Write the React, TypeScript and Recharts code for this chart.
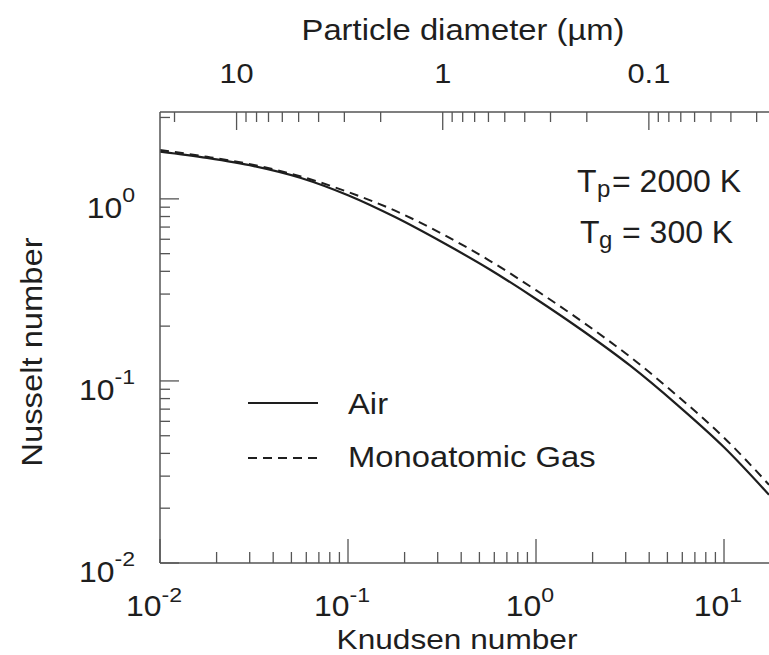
import React from "react";
import { LineChart, Line, XAxis, YAxis, Legend } from "recharts";

// Knudsen number (x) and Nusselt number (y)
const knudsen = [0.01, 0.0178, 0.0316, 0.0562, 0.1, 0.178, 0.316, 0.562, 1, 1.78, 3.16, 5.62, 10, 17.35];
const airNu = [1.82, 1.679, 1.514, 1.303, 1.047, 0.794, 0.579, 0.412, 0.282, 0.188, 0.1216, 0.0741, 0.0432, 0.0237];
const monoNu = [1.854, 1.702, 1.535, 1.327, 1.091, 0.861, 0.643, 0.46, 0.315, 0.21, 0.1358, 0.0832, 0.0488, 0.0269];

const knDomain = [0.01, 17.35];
const nuDomain = [0.01, 3];

const knMajor = [0.01, 0.1, 1, 10];
const knMinor = [0.02, 0.03, 0.04, 0.05, 0.06, 0.07, 0.08, 0.09, 0.2, 0.3, 0.4, 0.5, 0.6, 0.7, 0.8, 0.9, 2, 3, 4, 5, 6, 7, 8, 9];
const nuMajor = [0.01, 0.1, 1];
const nuMinor = [0.02, 0.03, 0.04, 0.05, 0.06, 0.07, 0.08, 0.09, 0.2, 0.3, 0.4, 0.5, 0.6, 0.7, 0.8, 0.9, 2.8];

// top axis: particle diameter in µm
const diamMajor = [10, 1, 0.1];
const diamLabels = ["10", "1", "0.1"];
const diamMinor = [20, 9, 8, 7, 6, 5, 4, 3, 2, 0.9, 0.8, 0.7, 0.6, 0.5, 0.4, 0.3, 0.2, 0.09, 0.08, 0.07, 0.06, 0.05, 0.04, 0.03];
const KN_AT_1UM = 0.319;
const D_EXP = 1.0965;
const diamToKn = (d: number) => KN_AT_1UM * Math.pow(d, -D_EXP);

const airData = knudsen.map((x, i) => ({ x, y: airNu[i] }));
const monoData = knudsen.map((x, i) => ({ x, y: monoNu[i] }));
const topMajorKn = diamMajor.map(diamToKn);
const topTicks = [...topMajorKn, ...diamMinor.map(diamToKn)];

const AXIS = "#555";
const INK = "#1e1e1e";
const FONT = '"Liberation Sans", Arial, Helvetica, sans-serif';

function Stretch({ x, y, anchor = "start", size, sx = 1.13, rotate = 0, children }: any) {
  return (
    <g transform={`translate(${x} ${y}) rotate(${rotate}) scale(${sx} 1)`}>
      <text x={0} y={0} textAnchor={anchor} fontSize={size} fontFamily={FONT} fill={INK}>
        {children}
      </text>
    </g>
  );
}

const near = (a: number, b: number) => Math.abs(Math.log10(a) - Math.log10(b)) < 1e-6;

function BottomTick({ x, y, payload }: any) {
  const v = payload.value;
  const major = knMajor.some((m) => near(m, v));
  return (
    <g>
      <line x1={x} x2={x} y1={y} y2={y - (major ? 24 : 11)} stroke={AXIS} strokeWidth={1.3} />
      {major && (
        <Stretch x={x - 6} y={y + 53} anchor="middle" size={29} sx={1.1}>
          10<tspan dy={-14} fontSize={21}>{Math.round(Math.log10(v))}</tspan>
        </Stretch>
      )}
    </g>
  );
}

function LeftTick({ x, y, payload }: any) {
  const v = payload.value;
  const major = nuMajor.some((m) => near(m, v));
  return (
    <g>
      <line x1={x} x2={x + (major ? 19 : 10)} y1={y} y2={y} stroke={AXIS} strokeWidth={1.3} />
      {major && (
        <Stretch x={x - 25} y={y + 19} anchor="end" size={29} sx={1.1}>
          10<tspan dy={-16} fontSize={21}>{Math.round(Math.log10(v))}</tspan>
        </Stretch>
      )}
    </g>
  );
}

function TopTick({ x, y, payload }: any) {
  const v = payload.value;
  const idx = topMajorKn.findIndex((m) => near(m, v));
  const major = idx >= 0;
  return (
    <g>
      <line x1={x} x2={x} y1={y} y2={y + (major ? 18 : 10)} stroke={AXIS} strokeWidth={1.3} />
      {major && (
        <Stretch x={x} y={y - 29} anchor="middle" size={28} sx={1.1}>
          {diamLabels[idx]}
        </Stretch>
      )}
    </g>
  );
}

function LegendBox() {
  return (
    <svg width={440} height={95}>
      <line x1={8} x2={78} y1={18} y2={18} stroke={INK} strokeWidth={2} />
      <Stretch x={108} y={29} size={29}>Air</Stretch>
      <line x1={8} x2={81} y1={73} y2={73} stroke={INK} strokeWidth={2} strokeDasharray="9 6" />
      <Stretch x={108} y={82} size={29}>Monoatomic Gas</Stretch>
    </svg>
  );
}

export default function App() {
  return (
    <div style={{ position: "absolute", left: 0, top: 0, width: 769, height: 655, background: "#fff" }}>
      <LineChart width={769} height={655} margin={{ top: 82, right: 0, bottom: 32, left: 100 }}>
        <XAxis
          dataKey="x"
          type="number"
          scale="log"
          domain={knDomain}
          allowDataOverflow
          ticks={[...knMajor, ...knMinor]}
          interval={0}
          height={60}
          tickSize={0}
          tickMargin={0}
          tickLine={false}
          axisLine={{ stroke: AXIS, strokeWidth: 1.5 }}
          tick={(p: any) => <BottomTick {...p} />}
        />
        <XAxis
          xAxisId="top"
          orientation="top"
          dataKey="x"
          type="number"
          scale="log"
          domain={knDomain}
          allowDataOverflow
          ticks={topTicks}
          interval={0}
          height={30}
          tickSize={0}
          tickMargin={0}
          tickLine={false}
          axisLine={{ stroke: AXIS, strokeWidth: 1.5 }}
          tick={(p: any) => <TopTick {...p} />}
        />
        <YAxis
          type="number"
          scale="log"
          domain={nuDomain}
          allowDataOverflow
          ticks={[...nuMajor, ...nuMinor]}
          interval={0}
          width={60}
          tickSize={0}
          tickMargin={0}
          tickLine={false}
          axisLine={{ stroke: AXIS, strokeWidth: 1.5 }}
          tick={(p: any) => <LeftTick {...p} />}
        />
        <Legend
          layout="horizontal"
          verticalAlign="middle"
          align="center"
          wrapperStyle={{ left: 240, top: 385, width: 440, height: 95 }}
          content={() => <LegendBox />}
        />
        <Line
          data={airData}
          dataKey="y"
          name="Air"
          type="monotone"
          stroke={INK}
          strokeWidth={2.2}
          dot={false}
          isAnimationActive={false}
        />
        <Line
          data={monoData}
          dataKey="y"
          name="Monoatomic Gas"
          type="monotone"
          stroke={INK}
          strokeWidth={2}
          strokeDasharray="9 6"
          dot={false}
          isAnimationActive={false}
        />
      </LineChart>
      <svg width={769} height={655} style={{ position: "absolute", left: 0, top: 0, pointerEvents: "none" }}>
        <Stretch x={463} y={40} anchor="middle" size={29}>Particle diameter (µm)</Stretch>
        <Stretch x={457} y={648.5} anchor="middle" size={28}>Knudsen number</Stretch>
        <Stretch x={42} y={352} anchor="middle" size={29} rotate={-90}>Nusselt number</Stretch>
        <text fontFamily={FONT} fill={INK} fontSize={32}>
          <tspan x={577} y={192}>T</tspan>
          <tspan x={597} y={197} fontSize={24}>p</tspan>
          <tspan x={612} y={192}>= 2000 K</tspan>
          <tspan x={580} y={243}>T</tspan>
          <tspan x={599} y={248} fontSize={24}>g</tspan>
          <tspan x={622} y={243}>= 300 K</tspan>
        </text>
      </svg>
    </div>
  );
}
